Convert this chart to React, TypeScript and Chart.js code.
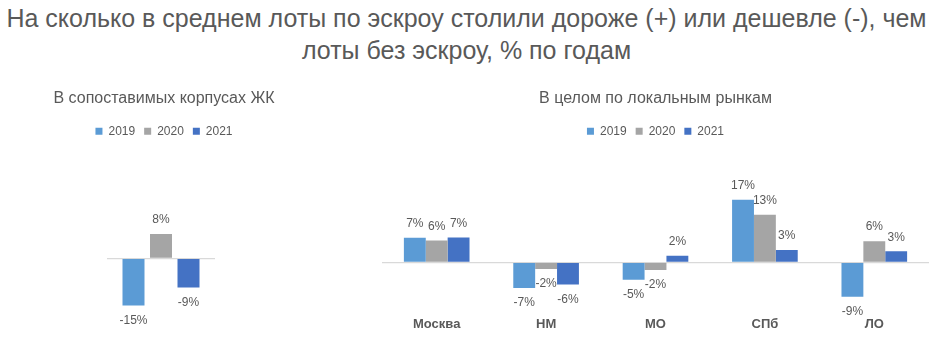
import React, { useEffect, useRef } from "react";
import { Chart, registerables } from "chart.js";

Chart.register(...registerables);

const years = ["2019", "2020", "2021"];
const yearColors = ["#5B9BD5", "#A5A5A5", "#4472C4"];

// Left chart: comparable buildings (one group)
const leftCategories = [""];
const left2019 = [-15.0];
const left2020 = [7.7];
const left2021 = [-9.3];

// Right chart: local markets
const rightCategories = ["Москва", "НМ", "МО", "СПб", "ЛО"];
const right2019 = [6.7, -7.0, -4.8, 17.1, -9.4];
const right2020 = [6.0, -1.8, -2.1, 13.0, 5.8];
const right2021 = [6.8, -6.1, 1.8, 3.4, 3.0];

const mainTitle1 = "На сколько в среднем лоты по эскроу столили дороже (+) или дешевле (-), чем";
const mainTitle2 = "лоты без эскроу, % по годам";
const leftTitle = "В сопоставимых корпусах ЖК";
const rightTitle = "В целом по локальным рынкам";

const FONT = "'Liberation Sans', Arial, sans-serif";
const TEXT = "#595959";

const valueLabels = {
  id: "valueLabels",
  afterDatasetsDraw(chart: any) {
    const ctx = chart.ctx;
    ctx.save();
    ctx.font = `12px ${FONT}`;
    ctx.fillStyle = TEXT;
    ctx.textAlign = "center";
    ctx.textBaseline = "middle";
    chart.data.datasets.forEach((ds: any, di: number) => {
      const meta = chart.getDatasetMeta(di);
      meta.data.forEach((bar: any, i: number) => {
        const v = ds.data[i];
        const txt = Math.round(v) + "%";
        const y = v >= 0 ? bar.y - 14 : bar.y + 15;
        ctx.fillText(txt, bar.x, y);
      });
    });
    ctx.restore();
  },
};

function makeConfig(opts: {
  categories: string[];
  series: number[][];
  title: string;
  min: number;
  max: number;
  catPct: number;
  barPct: number;
  sideLeft: number;
  sideRight: number;
  bottom: number;
  showX: boolean;
}) {
  return {
    type: "bar" as const,
    data: {
      labels: opts.categories,
      datasets: opts.series.map((s, i) => ({
        label: years[i],
        data: s,
        backgroundColor: yearColors[i],
        borderWidth: 0,
        categoryPercentage: opts.catPct,
        barPercentage: opts.barPct,
        yAxisID: "y",
      })),
    },
    options: {
      animation: false as const,
      responsive: false,
      maintainAspectRatio: false,
      layout: { padding: { left: 0, right: 0, top: 0, bottom: opts.bottom } },
      plugins: {
        title: {
          display: true,
          text: opts.title,
          color: TEXT,
          font: { family: FONT, size: 16, weight: "normal" as const, lineHeight: 1.2 },
          padding: { top: 14, bottom: 8 },
        },
        legend: {
          display: true,
          position: "top" as const,
          labels: {
            boxWidth: 7,
            boxHeight: 7,
            padding: 9,
            color: TEXT,
            font: { family: FONT, size: 12 },
          },
        },
        tooltip: { enabled: false },
      },
      scales: {
        x: {
          display: opts.showX,
          grid: { display: false, drawTicks: false },
          border: { display: false },
          ticks: {
            padding: 4,
            color: TEXT,
            font: { family: FONT, size: 13, weight: "bold" as const, lineHeight: 1.2 },
          },
        },
        y: {
          display: true,
          position: "left" as const,
          min: opts.min,
          max: opts.max,
          afterBuildTicks: (scale: any) => {
            scale.ticks = [{ value: 0 }];
          },
          afterFit: (scale: any) => {
            scale.width = opts.sideLeft;
          },
          ticks: { display: false },
          border: { display: false },
          grid: {
            drawTicks: false,
            color: "#D9D9D9",
            lineWidth: 1.2,
          },
        },
        ySpacer: {
          display: true,
          position: "right" as const,
          afterFit: (scale: any) => {
            scale.width = opts.sideRight;
          },
          ticks: { display: false },
          border: { display: false },
          grid: { display: false, drawTicks: false },
        },
      },
    },
    plugins: [valueLabels],
  };
}

function ChartCanvas(props: { config: any; style: React.CSSProperties; width: number; height: number }) {
  const ref = useRef<HTMLCanvasElement | null>(null);
  useEffect(() => {
    if (!ref.current) return;
    const chart = new Chart(ref.current, props.config);
    return () => chart.destroy();
  }, []);
  return <canvas ref={ref} width={props.width} height={props.height} style={props.style} />;
}

export default function App() {
  useEffect(() => {
    document.body.style.margin = "0";
  }, []);

  const leftConfig = makeConfig({
    categories: leftCategories,
    series: [left2019, left2020, left2021],
    title: leftTitle,
    min: -24.7,
    max: 35.3,
    catPct: 0.764,
    barPct: 0.8,
    sideLeft: 107,
    sideRight: 113,
    bottom: 25,
    showX: false,
  });

  const rightConfig = makeConfig({
    categories: rightCategories,
    series: [right2019, right2020, right2021],
    title: rightTitle,
    min: -13.7,
    max: 31.5,
    catPct: 0.6,
    barPct: 1.0,
    sideLeft: 10,
    sideRight: 10,
    bottom: 25,
    showX: true,
  });

  return (
    <div
      style={{
        position: "fixed",
        left: 0,
        top: 0,
        width: 939,
        height: 361,
        background: "#ffffff",
        overflow: "hidden",
      }}
    >
      <div
        style={{
          position: "absolute",
          left: 0,
          top: 1.5,
          width: 933,
          textAlign: "center",
          fontFamily: FONT,
          fontSize: 25,
          lineHeight: "32.3px",
          color: TEXT,
          whiteSpace: "nowrap",
        }}
      >
        <div>{mainTitle1}</div>
        <div>{mainTitle2}</div>
      </div>
      <ChartCanvas
        config={leftConfig}
        width={328}
        height={286}
        style={{ position: "absolute", left: 0, top: 75, width: 328, height: 286 }}
      />
      <ChartCanvas
        config={rightConfig}
        width={567}
        height={286}
        style={{ position: "absolute", left: 372, top: 75, width: 567, height: 286 }}
      />
    </div>
  );
}
